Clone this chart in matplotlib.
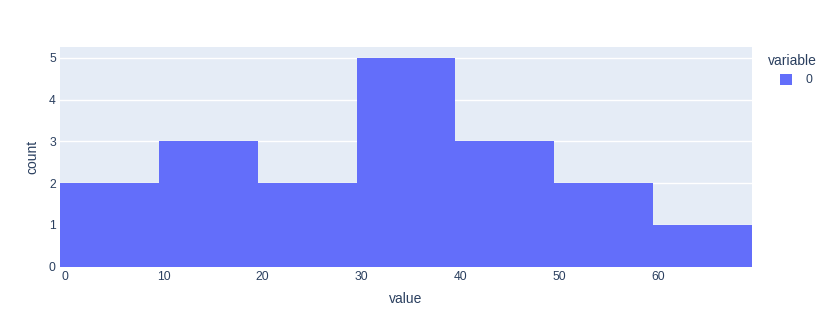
import matplotlib
matplotlib.use("Agg")
import matplotlib.pyplot as plt
from matplotlib.patches import Rectangle

plt.rcParams['font.family'] = ['Liberation Sans', 'DejaVu Sans']

bin_edges = [-0.5, 9.5, 19.5, 29.5, 39.5, 49.5, 59.5, 69.5]
counts = [2, 3, 2, 5, 3, 2, 1]
x_ticks = [0, 10, 20, 30, 40, 50, 60]
y_ticks = [0, 1, 2, 3, 4, 5]
legend_title = "variable"
series_name = "0"

BAR = "#636EFA"
BG = "#E5ECF6"
TXT = "#2a3f5f"

W, H = 831, 326
fig = plt.figure(figsize=(W / 100, H / 100), dpi=100)
L, R, T, B = 60, 752, 47, 266.5
ax = fig.add_axes([L / W, 1 - B / H, (R - L) / W, (B - T) / H])
ax.set_facecolor(BG)

lefts = bin_edges[:-1]
widths = [bin_edges[i + 1] - bin_edges[i] for i in range(len(counts))]
ax.bar(lefts, counts, width=widths, align='edge', color=BAR, linewidth=0, zorder=3)

ax.set_xlim(bin_edges[0], bin_edges[-1])
ax.set_ylim(0, 5.26)
ax.set_xticks(x_ticks)
ax.set_yticks(y_ticks)
ax.yaxis.grid(True, color='white', linewidth=1, zorder=1)
ax.xaxis.grid(False)
ax.set_axisbelow(True)
for s in ax.spines.values():
    s.set_visible(False)
ax.tick_params(axis='both', length=0, labelsize=8.7, colors=TXT)
ax.tick_params(axis='x', pad=3)
ax.tick_params(axis='y', pad=3)

ax.set_xlabel("value", fontsize=10, color=TXT, labelpad=7)
ax.set_ylabel("count", fontsize=10, color=TXT, labelpad=7)

# legend
fig.text(767.5 / W, 1 - 61 / H, legend_title, fontsize=10, color=TXT, ha='left', va='center')
fig.patches.append(Rectangle((779.5 / W, 1 - 85.5 / H), 12.5 / W, 11.5 / H,
                             transform=fig.transFigure, facecolor=BAR, edgecolor='none'))
fig.text(809 / W, 1 - 80 / H, series_name, fontsize=8.7, color=TXT, ha='center', va='center')

fig.savefig("out.png", dpi=100)
